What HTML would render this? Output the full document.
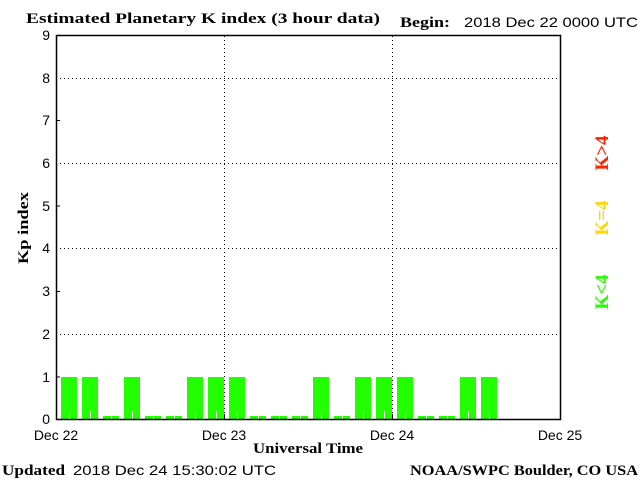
<!DOCTYPE html>
<html><head><style>html,body{margin:0;padding:0;background:#fff;}svg{display:block}</style></head><body>
<svg width="640" height="480" xmlns="http://www.w3.org/2000/svg">
<rect width="640" height="480" fill="#fff"/>
<g font-family="Liberation Serif, serif" font-weight="bold" font-size="15" fill="#000">
<text x="26" y="23" textLength="354" lengthAdjust="spacingAndGlyphs">Estimated Planetary K index (3 hour data)</text>
<text x="400" y="27" textLength="50" lengthAdjust="spacingAndGlyphs">Begin:</text>
<text x="253" y="453" textLength="110" lengthAdjust="spacingAndGlyphs">Universal Time</text>
<text x="2" y="475" textLength="63" lengthAdjust="spacingAndGlyphs">Updated</text>
<text x="410" y="475" textLength="228" lengthAdjust="spacingAndGlyphs">NOAA/SWPC Boulder, CO USA</text>
<text transform="translate(28,228) rotate(-90)" text-anchor="middle" textLength="72" lengthAdjust="spacingAndGlyphs">Kp index</text>
</g>
<g font-family="Liberation Sans, sans-serif" font-size="14" fill="#000">
<text x="464" y="27" textLength="174" lengthAdjust="spacingAndGlyphs">2018 Dec 22 0000 UTC</text>
<text x="73" y="475" textLength="203" lengthAdjust="spacingAndGlyphs">2018 Dec 24 15:30:02 UTC</text>
<text x="56" y="440" text-anchor="middle">Dec 22</text>
<text x="224" y="440" text-anchor="middle">Dec 23</text>
<text x="392" y="440" text-anchor="middle">Dec 24</text>
<text x="560" y="440" text-anchor="middle">Dec 25</text>
<g text-anchor="end">
<text x="50" y="424">0</text><text x="50" y="382">1</text><text x="50" y="339">2</text>
<text x="50" y="296">3</text><text x="50" y="253">4</text><text x="50" y="211">5</text>
<text x="50" y="168">6</text><text x="50" y="125">7</text><text x="50" y="83">8</text><text x="50" y="40">9</text>
</g>
</g>
<g stroke="#000" stroke-width="1" stroke-dasharray="1,3">
<line x1="60" y1="334.5" x2="560" y2="334.5"/>
<line x1="60" y1="248.5" x2="560" y2="248.5"/>
<line x1="60" y1="163.5" x2="560" y2="163.5"/>
<line x1="60" y1="78.5" x2="560" y2="78.5"/>
<line x1="224.5" y1="36" x2="224.5" y2="419"/>
<line x1="392.5" y1="36" x2="392.5" y2="419"/>
</g>
<g fill="#22ff00">
<rect x="61" y="377" width="16" height="42"/><rect x="82" y="377" width="16" height="42"/>
<rect x="103" y="416" width="16" height="3"/><rect x="124" y="377" width="16" height="42"/>
<rect x="145" y="416" width="16" height="3"/><rect x="166" y="416" width="16" height="3"/>
<rect x="187" y="377" width="16" height="42"/><rect x="208" y="377" width="16" height="42"/>
<rect x="229" y="377" width="16" height="42"/><rect x="250" y="416" width="16" height="3"/>
<rect x="271" y="416" width="16" height="3"/><rect x="292" y="416" width="16" height="3"/>
<rect x="313" y="377" width="16" height="42"/><rect x="334" y="416" width="16" height="3"/>
<rect x="355" y="377" width="16" height="42"/><rect x="376" y="377" width="16" height="42"/>
<rect x="397" y="377" width="16" height="42"/><rect x="418" y="416" width="16" height="3"/>
<rect x="439" y="416" width="16" height="3"/><rect x="460" y="377" width="16" height="42"/>
<rect x="481" y="377" width="16" height="42"/>
</g>
<g stroke="#fff" stroke-width="1">
<line x1="69.5" y1="411" x2="69.5" y2="419"/><line x1="90.5" y1="411" x2="90.5" y2="419"/>
<line x1="111.5" y1="416" x2="111.5" y2="419"/><line x1="132.5" y1="411" x2="132.5" y2="419"/>
<line x1="153.5" y1="416" x2="153.5" y2="419"/><line x1="174.5" y1="416" x2="174.5" y2="419"/>
<line x1="195.5" y1="411" x2="195.5" y2="419"/><line x1="216.5" y1="411" x2="216.5" y2="419"/>
<line x1="237.5" y1="411" x2="237.5" y2="419"/><line x1="258.5" y1="416" x2="258.5" y2="419"/>
<line x1="279.5" y1="416" x2="279.5" y2="419"/><line x1="300.5" y1="416" x2="300.5" y2="419"/>
<line x1="321.5" y1="411" x2="321.5" y2="419"/><line x1="342.5" y1="416" x2="342.5" y2="419"/>
<line x1="363.5" y1="411" x2="363.5" y2="419"/><line x1="384.5" y1="411" x2="384.5" y2="419"/>
<line x1="405.5" y1="411" x2="405.5" y2="419"/><line x1="426.5" y1="416" x2="426.5" y2="419"/>
<line x1="447.5" y1="416" x2="447.5" y2="419"/><line x1="468.5" y1="411" x2="468.5" y2="419"/>
<line x1="489.5" y1="411" x2="489.5" y2="419"/>
</g>
<g stroke="#000" stroke-width="1">
<rect x="56.5" y="35.5" width="504" height="384" fill="none" stroke-width="1.5"/>
<line x1="56" y1="377" x2="60" y2="377"/><line x1="56" y1="291.5" x2="60" y2="291.5"/>
<line x1="56" y1="206" x2="60" y2="206"/><line x1="56" y1="120.5" x2="60" y2="120.5"/>
<line x1="224.5" y1="414" x2="224.5" y2="419"/><line x1="392.5" y1="414" x2="392.5" y2="419"/>
</g>
<g font-family="Liberation Serif, serif" font-weight="bold" font-size="19">
<text transform="translate(608,153) rotate(-90)" text-anchor="middle" fill="#ff2200">K&gt;4</text>
<text transform="translate(608,218) rotate(-90)" text-anchor="middle" fill="#ffd700">K=4</text>
<text transform="translate(608,292) rotate(-90)" text-anchor="middle" fill="#22ff00">K&lt;4</text>
</g>
</svg>
</body></html>
